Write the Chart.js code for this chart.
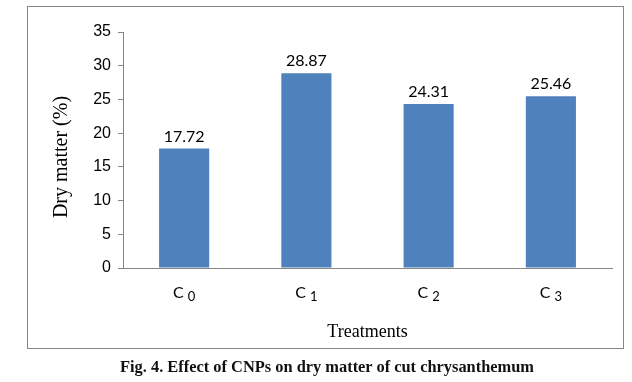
<!DOCTYPE html>
<html>
<head>
<meta charset="utf-8">
<script src="https://cdn.jsdelivr.net/npm/chart.js@4/dist/chart.umd.min.js"></script>
<style>
  html, body { margin: 0; padding: 0; background: #fff; }
  #wrap { position: relative; width: 632px; height: 382px; }
  #caption {
    position: absolute; left: 0; width: 654px; top: 357px;
    text-align: center; font: bold 16.4px "Liberation Serif", "Times New Roman", serif; color: #111;
  }
</style>
</head>
<body>
<div id="wrap">
  <canvas id="chart" width="632" height="382"></canvas>
  <div id="caption">Fig. 4. Effect of CNPs on dry matter of cut chrysanthemum</div>
</div>
<script>
// Dry matter (%) per treatment
const treatments = ['C0', 'C1', 'C2', 'C3'];
const subscripts = ['0', '1', '2', '3'];
const dryMatter = [17.72, 28.87, 24.31, 25.46];
const yTicks = [0, 5, 10, 15, 20, 25, 30, 35];

const frameAndLabels = {
  id: 'frameAndLabels',
  beforeDraw(chart) {
    const ctx = chart.ctx;
    ctx.save();
    ctx.fillStyle = '#fff';
    ctx.fillRect(0, 0, chart.width, chart.height);
    ctx.strokeStyle = '#868686';
    ctx.lineWidth = 1;
    ctx.strokeRect(27.5, 6.5, 596, 342);
    ctx.restore();
  },
  afterDraw(chart) {
    const ctx = chart.ctx;
    const x = chart.scales.x;
    const area = chart.chartArea;
    ctx.save();
    ctx.fillStyle = '#000';

    // value labels over bars
    ctx.font = '16px Lato, "Open Sans", sans-serif';
    ctx.textAlign = 'center';
    ctx.textBaseline = 'alphabetic';
    chart.getDatasetMeta(0).data.forEach((bar, i) => {
      ctx.fillText(dryMatter[i].toFixed(2), bar.x, bar.y - 7);
    });

    // category labels, "C" with lowered digit
    treatments.forEach((t, i) => {
      const cx = x.getPixelForTick(i);
      ctx.font = '16px Lato, "Open Sans", sans-serif';
      const wC = ctx.measureText('C').width;
      ctx.font = '13px Lato, "Open Sans", sans-serif';
      const wD = ctx.measureText(subscripts[i]).width;
      const gap = 4;
      const start = cx - (wC + gap + wD) / 2;
      ctx.textAlign = 'left';
      ctx.font = '16px Lato, "Open Sans", sans-serif';
      ctx.fillText('C', start, 298);
      ctx.font = '13px Lato, "Open Sans", sans-serif';
      ctx.fillText(subscripts[i], start + wC + gap, 301);
    });

    // axis titles
    ctx.font = '18px "Liberation Serif", "Times New Roman", serif';
    ctx.textAlign = 'center';
    ctx.textBaseline = 'middle';
    ctx.fillText('Treatments', (area.left + area.right) / 2, 332);

    ctx.font = '20px "Liberation Serif", "Times New Roman", serif';
    ctx.translate(62, 157);
    ctx.rotate(-Math.PI / 2);
    ctx.fillText('Dry matter (%)', 0, 0);
    ctx.restore();
  }
};

new Chart(document.getElementById('chart'), {
  type: 'bar',
  data: {
    labels: treatments,
    datasets: [{
      data: dryMatter,
      backgroundColor: '#4F81BD',
      borderWidth: 0,
      barPercentage: 0.41,
      categoryPercentage: 1.0,
    }],
  },
  options: {
    responsive: false,
    animation: false,
    layout: { padding: { left: 0, right: 20, top: 32, bottom: 0 } },
    plugins: {
      legend: { display: false },
      tooltip: { enabled: false },
    },
    scales: {
      x: {
        grid: { display: false, drawTicks: false },
        border: { display: true, color: '#868686', width: 1 },
        ticks: { display: false },
        afterFit: (s) => { s.height = 114; },
      },
      y: {
        min: 0,
        max: 35,
        afterBuildTicks: (s) => { s.ticks = yTicks.map((v) => ({ value: v })); },
        grid: { display: true, drawOnChartArea: false, drawTicks: true, tickLength: 5, color: '#868686' },
        border: { display: true, color: '#868686', width: 1 },
        ticks: {
          color: '#000',
          padding: 7,
          font: { family: 'Liberation Sans', size: 16 },
        },
        afterFit: (s) => { s.width = 123; },
      },
    },
  },
  plugins: [frameAndLabels],
});
</script>
</body>
</html>
